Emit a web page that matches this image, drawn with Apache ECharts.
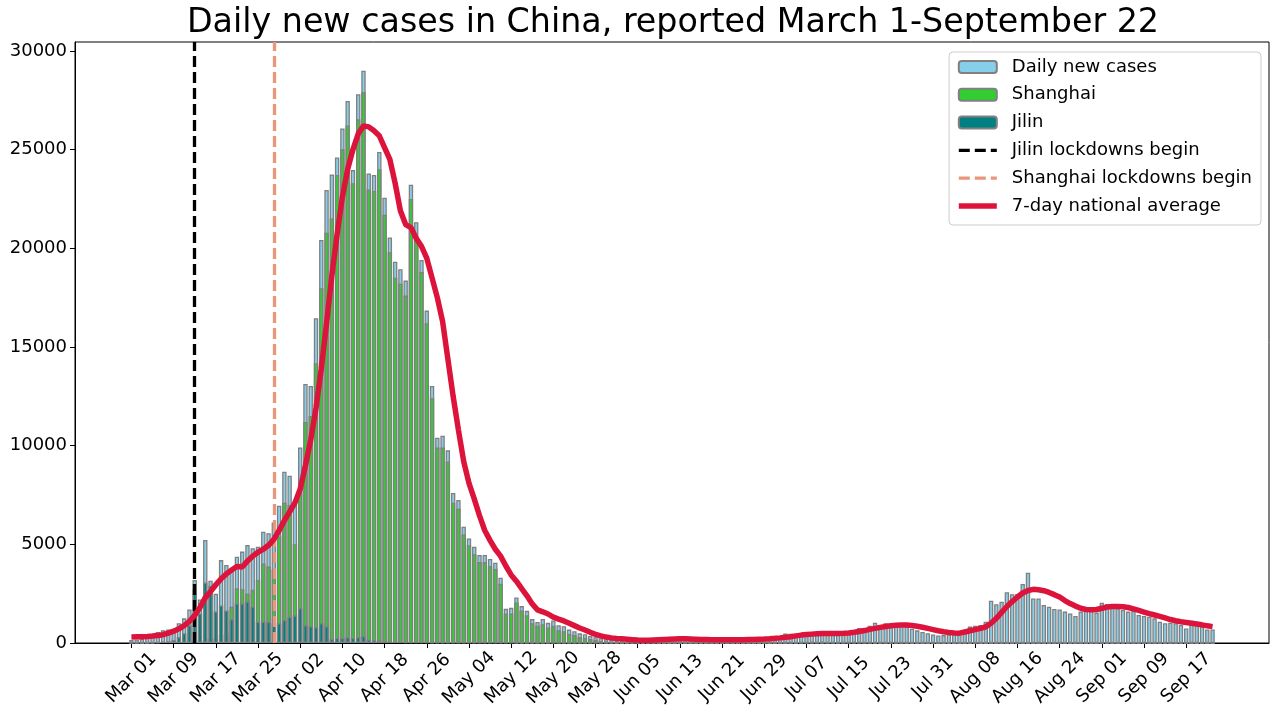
<!DOCTYPE html>
<html>
  <head>
    <meta charset="utf-8" />
    <title>Daily new cases in China</title>
    <script src="https://cdn.jsdelivr.net/npm/echarts/dist/echarts.min.js"></script>
  </head>
  <body>
    <style>
      html, body {
        width: 100%;
        height: 100%;
        margin: 0;
        padding: 0;
        background: #ffffff;
      }
      #main {
        width: 1280px;
        height: 720px;
      }
    </style>
    <div id="main"></div>
    <script type="text/javascript">

      // day 0 = Mar 01, day 205 = Sep 22 (report dates)
      var tickDays = [0, 8, 16, 24, 32, 40, 48, 56, 64, 72, 80, 88, 96, 104, 112, 120, 128, 136, 144, 152, 160, 168, 176, 184, 192, 200];
      var tickLabels = ['Mar 01', 'Mar 09', 'Mar 17', 'Mar 25', 'Apr 02', 'Apr 10', 'Apr 18', 'Apr 26',
        'May 04', 'May 12', 'May 20', 'May 28', 'Jun 05', 'Jun 13', 'Jun 21', 'Jun 29',
        'Jul 07', 'Jul 15', 'Jul 23', 'Jul 31', 'Aug 08', 'Aug 16', 'Aug 24', 'Sep 01', 'Sep 09', 'Sep 17'];

      var jilinLockdownDay = 12;     // Mar 13
      var shanghaiLockdownDay = 27;  // Mar 28

      var dailyCases = [
        // Mar
        150, 180, 200, 320, 450, 560, 650, 680, 700, 1000, 1250, 1700, 3190, 2210, 5220, 3160,
        2500, 4200, 3950, 3730, 4370, 4630, 4960, 4800, 4880, 5640, 5560, 6100, 6960, 8680, 8480,
        // Apr
        7000, 9910, 13120, 13020, 16450, 20420, 22950, 23740, 24600, 26070, 27460, 23960, 27800, 28990, 23790,
        23710, 24880, 22560, 20550, 19320, 18940, 18360, 23220, 21320, 19410, 16840, 13020, 10400, 10500, 9760,
        // May
        7600, 7250, 5890, 5300, 4880, 4460, 4460, 4260, 4070, 3310, 1730, 1780, 2310, 1870, 1630, 1210,
        1070, 1220, 1020, 1140, 900, 850, 680, 600, 490, 440, 355, 290, 240, 190, 150,
        // Jun
        130, 110, 100, 110, 120, 150, 170, 230, 230, 260, 240, 200, 180, 190, 170,
        160, 150, 170, 160, 150, 140, 160, 170, 200, 180, 190, 210, 230, 230, 260,
        // Jul
        300, 330, 480, 470, 420, 400, 420, 500, 480, 450, 470, 460, 480, 520, 580, 640,
        760, 650, 880, 1030, 850, 1000, 900, 920, 880, 840, 720, 640, 560, 500, 430,
        // Aug
        380, 400, 450, 500, 525, 660, 830, 880, 910, 1080, 2140, 1960, 2090, 2570, 2470, 2480,
        2990, 3560, 2260, 2260, 1930, 1840, 1720, 1700, 1590, 1500, 1370, 1590, 1670, 1760, 1540,
        // Sep
        2040, 1980, 1840, 1760, 1670, 1590, 1620, 1420, 1370, 1330, 1250,
        1080, 1000, 1030, 1000, 910, 740, 1130, 910, 830, 690, 690
      ];

      var shanghaiCases = [
        // Mar
        3, 5, 2, 10, 20, 40, 60, 60, 70, 80, 70, 80, 120, 150, 200, 200,
        250, 400, 500, 1840, 2770, 2720, 2500, 2700, 3190, 4030, 3870, 3730, 5390, 7110, 6990,
        // Apr
        5000, 7800, 11200, 11500, 14170, 17970, 20790, 21510, 23710, 25010, 26220, 23290, 26530, 27900, 22980,
        22900, 24000, 21700, 19800, 18500, 18200, 17600, 22500, 20600, 18800, 16200, 12400, 9900, 9900, 9200,
        // May
        7100, 6800, 5500, 4950, 4500, 4100, 4100, 3900, 3750, 3000, 1500, 1500, 2050, 1650, 1400, 1000,
        870, 950, 780, 870, 650, 600, 460, 400, 300, 260, 200, 150, 110, 80, 40,
        // Jun
        20, 15, 10, 8, 5, 4, 3, 3, 2, 2, 0, 0, 0, 0, 0,
        0, 0, 0, 0, 0, 0, 0, 0, 0, 0, 0, 0, 0, 0, 0,
        // Jul
        0, 0, 0, 10, 20, 30, 40, 50, 60, 50, 45, 40, 35, 40, 50, 60,
        55, 40, 30, 20, 15, 10, 8, 5, 4, 3, 2, 2, 1, 1, 1,
        // Aug
        0, 0, 0, 0, 0, 0, 0, 0, 0, 0, 0, 0, 0, 0, 0, 0,
        0, 0, 0, 0, 0, 0, 0, 0, 0, 0, 0, 0, 0, 0, 0,
        // Sep
        0, 0, 0, 0, 0, 0, 0, 0, 0, 0, 0,
        0, 0, 0, 0, 0, 0, 0, 0, 0, 0, 0
      ];

      var jilinCases = [
        // Mar
        0, 0, 0, 0, 10, 30, 60, 80, 150, 300, 500, 900, 2700, 1500, 3060, 2900,
        1600, 1900, 1650, 1200, 2000, 2000, 2100, 1850, 1080, 1080, 1080, 1000, 1000, 1170, 1330,
        // Apr
        1400, 1760, 900, 850, 800, 1000, 850, 200, 250, 250, 300, 250, 300, 350, 180,
        150, 120, 100, 80, 70, 60, 50, 40, 35, 30, 30, 25, 20, 20, 15,
        // May
        15, 12, 10, 10, 8, 8, 6, 5, 5, 4, 3, 3, 2, 2, 2, 1,
        1, 1, 1, 0, 0, 0, 0, 0, 0, 0, 0, 0, 0, 0, 0,
        // Jun
        0, 0, 0, 0, 0, 0, 0, 0, 0, 0, 0, 0, 0, 0, 0,
        0, 0, 0, 0, 0, 0, 0, 0, 0, 0, 0, 0, 0, 0, 0,
        // Jul
        0, 0, 0, 0, 0, 0, 0, 0, 0, 0, 0, 0, 0, 0, 0, 0,
        0, 0, 0, 0, 0, 0, 0, 0, 0, 0, 0, 0, 0, 0, 0,
        // Aug
        0, 0, 0, 0, 0, 0, 0, 0, 0, 0, 0, 0, 0, 0, 0, 0,
        0, 0, 0, 0, 0, 0, 0, 0, 0, 0, 0, 0, 0, 0, 0,
        // Sep
        0, 0, 0, 0, 0, 0, 0, 0, 0, 0, 0,
        0, 0, 0, 0, 0, 0, 0, 0, 0, 0, 0
      ];

      // 7-day national average
      var weeklyAverage = [
        // Mar
        310, 315, 320, 330, 350, 380, 420, 500, 600, 720, 880, 1100, 1400, 1800, 2300, 2600,
        2950, 3250, 3500, 3700, 3880, 3850, 4150, 4400, 4600, 4750, 4950, 5250, 5700, 6200, 6650,
        // Apr
        7100, 7800, 9000, 10300, 11900, 13900, 16200, 18600, 20700, 22600, 24000, 25000, 25800, 26200, 26150,
        25950, 25700, 25100, 24500, 23300, 21900, 21200, 21050, 20500, 20100, 19500, 18500, 17500, 16300, 14400,
        // May
        12500, 10800, 9200, 8100, 7300, 6450, 5700, 5200, 4750, 4400, 3900, 3450, 3130, 2760, 2390, 1980,
        1680, 1580, 1470, 1310, 1210, 1120, 1000, 880, 760, 660, 540, 440, 360, 300, 260,
        // Jun
        230, 210, 190, 170, 150, 140, 135, 150, 165, 180, 195, 205, 210, 210, 200,
        190, 180, 175, 170, 165, 160, 160, 160, 165, 170, 175, 180, 190, 200, 215,
        // Jul
        235, 260, 290, 320, 360, 400, 430, 450, 470, 480, 480, 480, 485, 495, 510, 540,
        580, 630, 690, 740, 790, 835, 875, 900, 915, 910, 890, 850, 800, 740, 680,
        // Aug
        620, 570, 530, 510, 500, 560, 620, 680, 740, 820, 1000, 1250, 1550, 1850, 2100, 2330,
        2530, 2660, 2720, 2700, 2650, 2560, 2450, 2330, 2150, 2000, 1870, 1760, 1700, 1680, 1700,
        // Sep
        1760, 1820, 1850, 1850, 1840, 1800, 1730, 1650, 1570, 1490, 1420,
        1350, 1270, 1190, 1130, 1080, 1040, 1000, 960, 920, 870, 830
      ];

      function byDay(values) {
        return values.map(function (v, i) { return [i, v]; });
      }

      var FONT = 'DejaVu Sans';
      var EDGE = '#808080';
      var DASH = [11, 5];

      var chartDom = document.getElementById('main');
      var myChart = echarts.init(chartDom);
      var option;

      var barCommon = {
        type: 'bar',
        barWidth: 4.4,
        barGap: '-100%',
        z: 2
      };

      // legend entries for lines: hide the circle ECharts puts in the middle
      var noSymbol = { opacity: 0 };

      option = {
        animation: false,
        backgroundColor: '#ffffff',
        graphic: [{
          type: 'text',
          x: 673,
          y: 23,
          style: {
            text: 'Daily new cases in China, reported March 1-September 22',
            font: '33.3px "DejaVu Sans"',
            fill: '#000',
            textAlign: 'center',
            textVerticalAlign: 'middle'
          }
        }],
        grid: {
          left: 75,
          right: 11,
          top: 42,
          bottom: 77,
          show: true,
          borderColor: '#000',
          borderWidth: 1,
          backgroundColor: 'transparent'
        },
        legend: {
          orient: 'vertical',
          right: 19,
          top: 52,
          padding: [5, 9, 9, 7],
          itemWidth: 38,
          itemHeight: 12,
          itemGap: 7.8,
          backgroundColor: 'rgba(255,255,255,0.85)',
          borderColor: '#cccccc',
          borderWidth: 1,
          borderRadius: 4,
          textStyle: {
            fontFamily: FONT,
            fontSize: 18,
            color: '#000',
            lineHeight: 20,
            padding: [0, 0, 0, 10]
          },
          data: [
            { name: 'Daily new cases' },
            { name: 'Shanghai' },
            { name: 'Jilin' },
            { name: 'Jilin lockdowns begin', itemStyle: noSymbol,
              lineStyle: { color: '#000000', width: 3.3, type: DASH } },
            { name: 'Shanghai lockdowns begin', itemStyle: noSymbol,
              lineStyle: { color: '#E9967A', width: 3.3, type: DASH } },
            { name: '7-day national average', itemStyle: noSymbol,
              lineStyle: { color: '#DC143C', width: 5.5 } }
          ]
        },
        xAxis: {
          type: 'value',
          min: -10.7,
          max: 215.7,
          splitLine: { show: false },
          axisLine: { onZero: false, lineStyle: { color: '#000', width: 1 } },
          axisTick: {
            customValues: tickDays,
            length: 5,
            lineStyle: { color: '#000' }
          },
          axisLabel: {
            customValues: tickDays,
            rotate: 45,
            align: 'center',
            verticalAlign: 'middle',
            margin: 35,
            fontFamily: FONT,
            fontSize: 18,
            color: '#000',
            formatter: function (v) {
              return tickLabels[tickDays.indexOf(Math.round(v))];
            }
          }
        },
        yAxis: {
          type: 'value',
          min: 0,
          max: 30450,
          interval: 5000,
          splitLine: { show: false },
          axisLine: { show: true, onZero: false, lineStyle: { color: '#000', width: 1 } },
          axisTick: { show: true, length: 5, lineStyle: { color: '#000' } },
          axisLabel: {
            margin: 8,
            fontFamily: FONT,
            fontSize: 18,
            color: '#000',
            formatter: function (v) { return String(v); }
          }
        },
        series: [
          Object.assign({}, barCommon, {
            name: 'Daily new cases',
            data: byDay(dailyCases),
            itemStyle: { color: '#87CEEB', borderColor: EDGE, borderWidth: 1.3 }
          }),
          Object.assign({}, barCommon, {
            name: 'Shanghai',
            data: byDay(shanghaiCases),
            itemStyle: { color: '#32CD32', borderColor: EDGE, borderWidth: 1.3 }
          }),
          Object.assign({}, barCommon, {
            name: 'Jilin',
            data: byDay(jilinCases),
            itemStyle: { color: '#008080', borderColor: EDGE, borderWidth: 1.3 }
          }),
          {
            name: 'Jilin lockdowns begin',
            type: 'line',
            data: [],
            symbol: 'none',
            z: 3,
            lineStyle: { color: '#000000', width: 3.3, type: DASH },
            itemStyle: { color: '#000000' },
            markLine: {
              silent: true,
              symbol: ['none', 'none'],
              label: { show: false },
              lineStyle: { color: '#000000', width: 3.3, type: DASH },
              data: [{ xAxis: jilinLockdownDay }]
            }
          },
          {
            name: 'Shanghai lockdowns begin',
            type: 'line',
            data: [],
            symbol: 'none',
            z: 3,
            lineStyle: { color: '#E9967A', width: 3.3, type: DASH },
            itemStyle: { color: '#E9967A' },
            markLine: {
              silent: true,
              symbol: ['none', 'none'],
              label: { show: false },
              lineStyle: { color: '#E9967A', width: 3.3, type: DASH },
              data: [{ xAxis: shanghaiLockdownDay }]
            }
          },
          {
            name: '7-day national average',
            type: 'line',
            data: byDay(weeklyAverage),
            symbol: 'none',
            showSymbol: false,
            z: 5,
            lineStyle: { color: '#DC143C', width: 5.5 },
            itemStyle: { color: '#DC143C' }
          }
        ]
      };

      option && myChart.setOption(option);
    </script>
  </body>
</html>
